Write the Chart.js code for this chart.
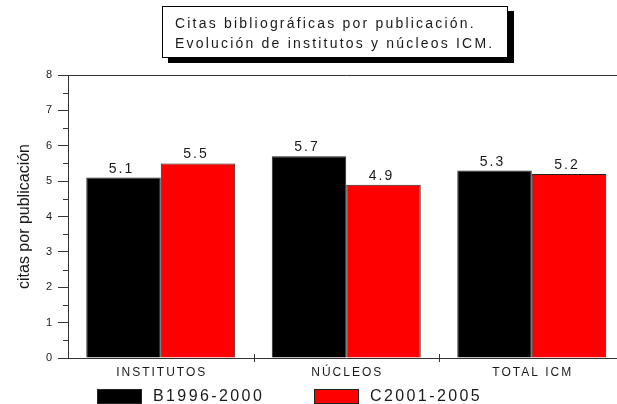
<!DOCTYPE html>
<html>
<head>
<meta charset="utf-8">
<script src="https://cdn.jsdelivr.net/npm/chart.js@4/dist/chart.umd.min.js"></script>
<style>
  html, body { margin: 0; padding: 0; background: #fff; overflow: hidden; width: 617px; height: 404px; }
  body { font-family: "Liberation Sans", Arial, sans-serif; color: #1a1a1a; }
  #wrap { position: relative; width: 640px; height: 404px; }
  #chart { position: absolute; left: 0; top: 0; }
  .title-box {
    position: absolute; left: 162px; top: 6px; width: 332px;
    border: 1px solid #000; background: #fff;
    box-shadow: 6px 5px 0 #000;
    padding: 6px 0 4px 12px;
    font-size: 14px; line-height: 20px; letter-spacing: 2.2px;
  }
  .legend-item { position: absolute; top: 388px; display: flex; align-items: center; }
  .legend-box { width: 43px; height: 13px; border: 1px solid #222; margin-right: 11px; }
  .legend-text { font-size: 16px; letter-spacing: 2.4px; line-height: 16px; }
</style>
</head>
<body>
<div id="wrap">
  <canvas id="chart" width="640" height="404"></canvas>
  <div class="title-box" id="titleBox"></div>
  <div id="legend"></div>
</div>
<script>
const titleLines = ["Citas bibliográficas por publicación.", "Evolución de institutos y núcleos ICM."];
const categories = ["INSTITUTOS", "NÚCLEOS", "TOTAL ICM"];
const seriesNames = ["B1996-2000", "C2001-2005"];
const seriesColors = ["#000000", "#ff0000"];
const seriesB = [5.1, 5.7, 5.3];
const seriesC = [5.5, 4.9, 5.2];
const yMin = 0;
const yMax = 8;
const yStep = 1;
const yTitle = "citas por publicación";

document.getElementById("titleBox").innerHTML = titleLines.map((t) => `<div>${t}</div>`).join("");

const legendLeft = [97, 314];
document.getElementById("legend").innerHTML = seriesNames
  .map((name, i) => `<div class="legend-item" style="left:${legendLeft[i]}px">
      <div class="legend-box" style="background:${seriesColors[i]}"></div>
      <div class="legend-text">${name}</div></div>`)
  .join("");

const extras = {
  id: "extras",
  afterDraw(chart) {
    const { ctx, chartArea } = chart;
    const x = chart.scales.x;
    const y = chart.scales.y;
    ctx.save();
    ctx.strokeStyle = "#333";
    ctx.lineWidth = 1;
    ctx.beginPath();
    // top frame line
    ctx.moveTo(chartArea.left, Math.round(chartArea.top) + 0.5);
    ctx.lineTo(chartArea.right, Math.round(chartArea.top) + 0.5);
    // minor y ticks
    for (let v = yMin + yStep / 2; v < yMax; v += yStep) {
      const py = Math.round(y.getPixelForValue(v)) + 0.5;
      ctx.moveTo(chartArea.left - 5, py);
      ctx.lineTo(chartArea.left, py);
    }
    // category boundary ticks
    for (let i = 0; i < categories.length - 1; i++) {
      const px = Math.round((x.getPixelForValue(i) + x.getPixelForValue(i + 1)) / 2) + 0.5;
      ctx.moveTo(px, chartArea.bottom - 4);
      ctx.lineTo(px, chartArea.bottom + 4);
    }
    ctx.stroke();

    // category labels
    ctx.fillStyle = "#1a1a1a";
    ctx.font = '12px "Liberation Sans", Arial, sans-serif';
    ctx.letterSpacing = "2px";
    ctx.textAlign = "center";
    ctx.textBaseline = "middle";
    categories.forEach((c, i) => {
      ctx.fillText(c, x.getPixelForValue(i) + 1, chartArea.bottom + 15);
    });

    // value labels
    ctx.font = '14px "Liberation Sans", Arial, sans-serif';
    ctx.textBaseline = "alphabetic";
    chart.data.datasets.forEach((ds, di) => {
      chart.getDatasetMeta(di).data.forEach((bar, i) => {
        ctx.fillText(ds.data[i].toFixed(1), bar.x - 2, bar.y - 5);
      });
    });
    ctx.restore();
  },
};

new Chart(document.getElementById("chart"), {
  type: "bar",
  data: {
    labels: categories,
    datasets: [
      { label: seriesNames[0], data: seriesB, backgroundColor: seriesColors[0], borderColor: "#222", borderWidth: 1 },
      { label: seriesNames[1], data: seriesC, backgroundColor: seriesColors[1], borderColor: "#222", borderWidth: 1 },
    ],
  },
  options: {
    responsive: false,
    animation: false,
    categoryPercentage: 0.803,
    barPercentage: 1,
    layout: { padding: { top: 75, right: 15.5, bottom: 0, left: 0 } },
    plugins: { legend: { display: false }, tooltip: { enabled: false } },
    scales: {
      x: {
        grid: { display: false },
        border: { display: true, color: "#333", width: 1 },
        ticks: { display: false },
        afterFit: (s) => { s.height = 46; },
      },
      y: {
        min: yMin,
        max: yMax,
        ticks: {
          stepSize: yStep,
          color: "#1a1a1a",
          padding: 6,
          font: { family: '"Liberation Sans", Arial, sans-serif', size: 11 },
        },
        grid: { drawOnChartArea: false, drawTicks: true, tickLength: 10, color: "#333" },
        border: { display: true, color: "#333", width: 1 },
        title: {
          display: true,
          text: yTitle,
          color: "#1a1a1a",
          padding: { top: 15, bottom: 0 },
          font: { family: '"Liberation Sans", Arial, sans-serif', size: 16 },
        },
        afterFit: (s) => { s.width = 68; },
      },
    },
  },
  plugins: [extras],
});
</script>
</body>
</html>
